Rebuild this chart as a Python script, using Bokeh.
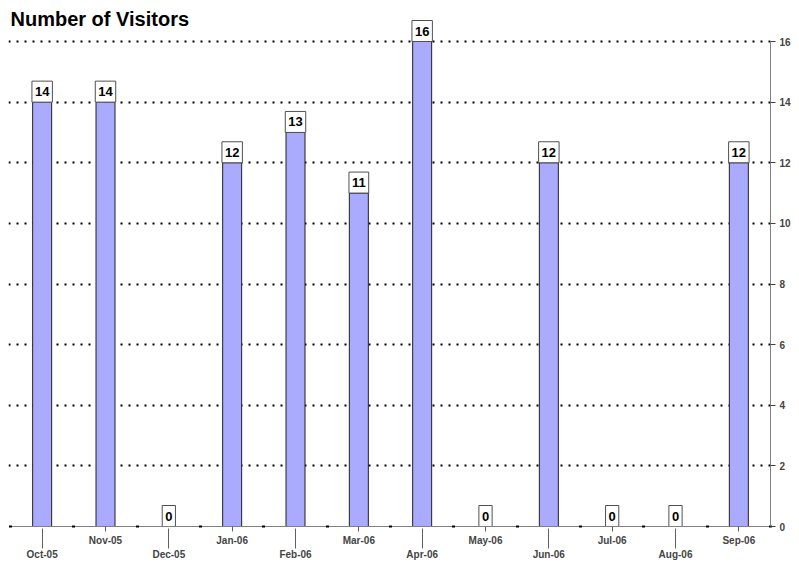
from bokeh.plotting import figure
from bokeh.models import ColumnDataSource, Range1d, LinearAxis, FixedTicker
from bokeh.core.properties import value
from bokeh.embed import file_html
from bokeh.resources import INLINE

months = ["Oct-05", "Nov-05", "Dec-05", "Jan-06", "Feb-06", "Mar-06",
          "Apr-06", "May-06", "Jun-06", "Jul-06", "Aug-06", "Sep-06"]
visitors = [14, 14, 0, 12, 13, 11, 16, 0, 12, 0, 0, 12]
y_ticks = [0, 2, 4, 6, 8, 10, 12, 14, 16]

FONT = "Liberation Sans"
n = len(months)
idx = list(range(n))
xc = [i + 0.5 for i in idx]

src = ColumnDataSource(dict(x=xc, top=visitors, label=[str(v) for v in visitors]))

W, H = 799, 562
BOTTOM = 526          # pixel row of y = 0
TOP16 = 41            # pixel row of y = 16
LEFT, RIGHT = 10, 770  # pixel columns of x = 0 and x = 12
PX_PER_UNIT = (BOTTOM - TOP16) / 16.0
y_top = BOTTOM / PX_PER_UNIT
X_PX = (RIGHT - LEFT) / n
x_left = -2 / X_PX

p = figure(width=W, height=H, output_backend="svg", toolbar_location=None,
           x_range=Range1d(x_left, n), y_range=Range1d(0, y_top),
           x_axis_location=None, y_axis_location=None,
           min_border_left=LEFT - 2, min_border_right=W - RIGHT, min_border_top=0,
           min_border_bottom=H - BOTTOM)
p.outline_line_color = None
p.background_fill_color = "white"
p.border_fill_color = "white"

# title (inside the frame, top-left)
p.text(x=[x_left], y=[y_top], text=["Number of Visitors"],
       text_font=value(FONT), text_font_size="20px", text_font_style="bold",
       text_color="black", text_baseline="top", text_align="left",
       x_offset=2, y_offset=7)

# grid
p.xgrid.visible = False
p.ygrid.ticker = FixedTicker(ticks=y_ticks[1:])
p.ygrid.grid_line_color = "black"
p.ygrid.grid_line_width = 2
p.ygrid.grid_line_dash = "2 6"

p.vbar(x="x", top="top", width=0.30, bottom=0, source=src,
       fill_color="#aaaaff", line_color="#202020", line_width=1)

# right axis
ra = LinearAxis(ticker=FixedTicker(ticks=y_ticks), bounds=(0, 16))
ra.axis_line_color = "#808080"
ra.major_tick_line_color = "#404040"
ra.major_tick_in = 0
ra.major_tick_out = 5
ra.minor_tick_line_color = None
ra.major_label_text_font = FONT
ra.major_label_text_font_size = "10px"
ra.major_label_text_font_style = "bold"
ra.major_label_standoff = 4
p.add_layout(ra, "right")

# bottom axes with staggered labels
hi = [xc[i] for i in idx if i % 2 == 1]
lo = [xc[i] for i in idx if i % 2 == 0]
bounds_marks = [float(i) for i in range(n + 1)]

ax_hi = LinearAxis(ticker=FixedTicker(ticks=hi, minor_ticks=bounds_marks), bounds=(0, n))
ax_hi.major_label_overrides = {xc[i]: months[i] for i in idx}
ax_hi.axis_line_color = "#808080"
ax_hi.major_tick_line_color = "#606060"
ax_hi.major_tick_in = 0
ax_hi.major_tick_out = 5
ax_hi.minor_tick_line_color = "black"
ax_hi.minor_tick_line_width = 3
ax_hi.minor_tick_in = 1
ax_hi.minor_tick_out = 1
ax_hi.major_label_text_font = FONT
ax_hi.major_label_text_font_size = "10px"
ax_hi.major_label_text_font_style = "bold"
ax_hi.major_label_standoff = 3
p.add_layout(ax_hi, "below")

ax_lo = LinearAxis(ticker=FixedTicker(ticks=lo, minor_ticks=[]))
ax_lo.major_label_overrides = {xc[i]: months[i] for i in idx}
ax_lo.axis_line_color = None
ax_lo.major_tick_line_color = "#606060"
ax_lo.major_tick_in = 20
ax_lo.major_tick_out = 0
ax_lo.minor_tick_line_color = None
ax_lo.major_label_text_font = FONT
ax_lo.major_label_text_font_size = "10px"
ax_lo.major_label_text_font_style = "bold"
ax_lo.major_label_standoff = 0
p.add_layout(ax_lo, "below")

# value labels
p.text(x="x", y="top", text="label", source=src, anchor="bottom_center",
       text_font=value(FONT), text_font_size="13px", text_font_style="bold",
       text_color="black", padding=(3, 6), background_fill_color="white",
       border_line_color="#505050", border_line_width=1)

open("out.html", "w").write(file_html(p, INLINE))
